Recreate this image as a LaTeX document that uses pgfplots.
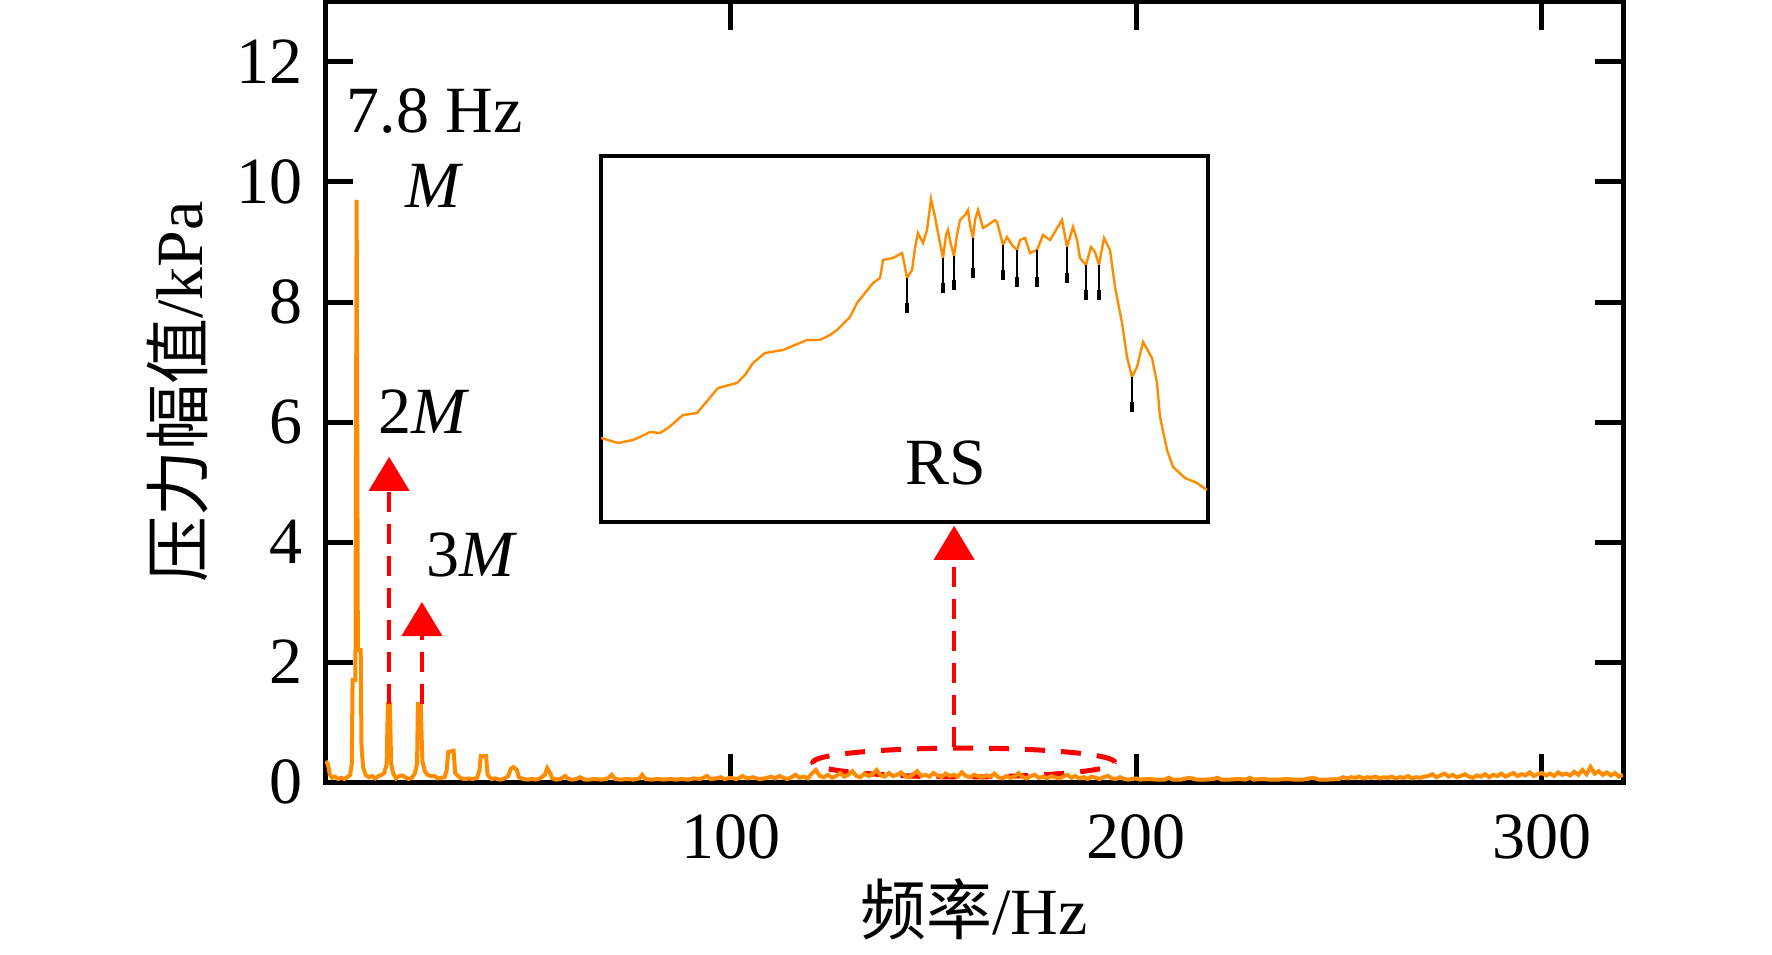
\documentclass[border=0pt]{standalone}
\usepackage{fontspec}
\setmainfont{Liberation Serif}
\newfontfamily\cjk{Noto Sans CJK SC}
\usepackage{pgfplots}
\pgfplotsset{compat=1.18}
\usetikzlibrary{arrows.meta,calc}
\definecolor{sorange}{RGB}{255,140,0}
\newcommand\fs{\fontsize{16.5}{19}\selectfont}
\begin{document}
\begin{tikzpicture}
\useasboundingbox (-81.25pt,-43pt) rectangle (361.75pt,195.5pt);
\begin{axis}[name=main, at={(0,0)}, anchor=south west,
  scale only axis, width=324.5pt, height=195pt,
  xmin=0, xmax=320, ymin=0, ymax=13,
  xtick={100,200,300}, ytick={0,2,4,6,8,10,12},
  tick align=inside, major tick length=7pt,
  tick style={line width=1.25pt, black},
  axis line style={line width=1.25pt},
  /pgf/number format/assume math mode=true,
  tick label style={font=\fs},
  xticklabel style={yshift=-4.5pt},
  yticklabel style={xshift=-2pt},
  label style={font=\fs},
  xlabel={{\cjk 频率}/Hz},
  ylabel={{\cjk 压力幅值}/kPa},
  xlabel style={at={(axis description cs:0.5,0)}, anchor=center, yshift=-31.75pt},
  ylabel style={at={(axis description cs:-0.1133,0.5)}, anchor=center},
]
\draw[red, line width=1.25pt, dash pattern=on 5pt off 4pt] (axis cs:157.5,0.325) ellipse [x radius=37.75pt, y radius=3.6pt];
\addplot[sorange, line width=1pt, no marks] coordinates {
(0.2,0.35)(0.7,0.3)(1.2,0.12)(1.8,0.07)(2.5,0.09)(3.2,0.05)(4.0,0.07)(4.8,0.05)(5.5,0.08)(6.2,0.12)(6.6,0.3)
(6.8,1.7)(7.5,1.7)(7.8,9.7)(8.1,2.2)(8.8,2.2)(9.0,0.6)(9.4,0.25)(10.0,0.12)(10.8,0.08)(11.6,0.1)(12.4,0.06)
(13.2,0.1)(14.0,0.12)(14.6,0.15)(15.2,0.3)(15.5,1.3)(16.0,1.3)(16.3,0.3)(16.8,0.15)(17.5,0.06)(18.3,0.1)
(19.0,0.11)(19.8,0.08)(20.6,0.05)(21.4,0.07)(22.2,0.15)(22.7,0.3)(22.9,1.3)(23.6,1.3)(24.0,0.35)(24.6,0.18)
(25.3,0.12)(26.0,0.1)(27.0,0.1)(27.8,0.06)(28.6,0.07)(29.5,0.08)(30.0,0.2)(30.4,0.5)(31.7,0.52)(32.1,0.15)
(32.8,0.1)(33.6,0.06)(34.5,0.05)(35.5,0.06)(36.5,0.05)(37.5,0.07)(38.1,0.2)(38.4,0.43)(39.7,0.43)(40.1,0.12)
(41,0.05)(42,0.06)(43,0.04)(44,0.05)(45.2,0.1)(45.8,0.22)(46.5,0.25)(47.3,0.2)(47.8,0.08)(48.8,0.05)
(50,0.04)(51,0.05)(52,0.04)(53,0.06)(54.2,0.12)(54.8,0.23)(55.5,0.15)(56,0.06)(57,0.04)(58,0.05)(59.2,0.1)
(60,0.05)(61,0.04)(62,0.05)(62.9,0.08)(64,0.04)
(65,0.04)(66.5,0.05)(68,0.04)(69.5,0.05)(70.7,0.12)(71.5,0.05)(73,0.04)(74.5,0.05)(76,0.04)(77.5,0.06)
(78.2,0.12)(79,0.05)(80.5,0.04)(82,0.05)(83.5,0.04)(85,0.05)(86.5,0.04)(88,0.05)(89.5,0.04)(91,0.06)
(92.5,0.05)(94.2,0.1)(95,0.05)(96.5,0.06)(97.5,0.08)(98.5,0.05)(100,0.07)(101.5,0.05)(103,0.1)(104,0.06)
(105.5,0.08)(107,0.05)(108.5,0.06)(110,0.09)
(111,0.06)(112,0.1)(113,0.07)(114,0.05)(115,0.08)(116,0.12)(117,0.07)(118,0.09)(119,0.06)(120,0.14)
(121,0.2)(122,0.1)(123,0.08)(124,0.12)(125,0.07)(126,0.1)(127,0.15)(128,0.09)(129,0.12)(130,0.18)
(131,0.1)(132,0.08)(133,0.14)(134,0.1)(135,0.13)(136,0.2)(137,0.11)(138,0.09)(139,0.15)(140,0.1)
(141,0.12)(142,0.16)(143,0.1)(144,0.08)(145,0.13)(146,0.18)(147,0.1)(148,0.12)(149,0.09)(150,0.15)
(151,0.11)(152,0.08)(153,0.14)(154,0.1)(155,0.12)(156,0.09)(157,0.16)(158,0.1)(159,0.08)(160,0.12)
(161,0.1)(162,0.07)(163,0.11)(164,0.09)(165,0.14)(166,0.08)(167,0.06)(168,0.1)(169,0.07)(170,0.09)
(171,0.15)(172,0.08)(173,0.06)(174,0.1)(175,0.12)(176,0.07)(177,0.09)(178,0.06)(179,0.1)(180,0.08)
(181,0.06)(182,0.09)(183,0.12)(184,0.07)(185,0.1)(186,0.06)(187,0.08)(188,0.05)(189,0.09)(190,0.07)
(191,0.05)(192,0.08)(193,0.1)(194,0.06)(195,0.05)(196,0.08)(197,0.05)(198,0.04)(199,0.05)(200,0.06)
(201,0.04)(203,0.05)(205,0.04)(207,0.04)(208,0.07)(209,0.04)(211,0.04)(213,0.07)(215,0.04)(217,0.04)
(219,0.05)(220,0.07)(221,0.04)(223,0.04)(225,0.05)(227,0.04)(228,0.07)(229,0.04)(231,0.05)(233,0.04)
(235,0.04)(237,0.05)(239,0.04)(241,0.04)(243.6,0.07)(245,0.04)(247,0.04)
(250,0.05)(251,0.08)(252,0.06)(253,0.08)(254,0.07)(255,0.09)(256,0.06)(257,0.08)(258,0.07)(259,0.09)
(260,0.06)(261,0.08)(262,0.07)(263,0.09)(264,0.06)(265,0.08)(266,0.07)(267,0.1)(268,0.06)(269,0.08)
(270,0.07)(271,0.09)(272,0.1)(273,0.13)(274,0.08)(275,0.11)(276,0.14)(277,0.09)(278,0.12)(279,0.08)
(280,0.1)(281,0.13)(282,0.09)(283,0.07)(284,0.11)(285,0.09)(286,0.13)(287,0.08)(288,0.12)(289,0.1)
(290,0.14)(291,0.09)(292,0.12)(293,0.15)(294,0.1)(295,0.13)(296,0.11)(297,0.16)(298,0.1)(299,0.13)
(300,0.15)(301,0.11)(302,0.14)(303,0.1)(304,0.16)(305,0.12)(306,0.14)(307,0.11)(308,0.17)(309,0.12)
(310,0.2)(311,0.13)(312,0.25)(313,0.14)(314,0.18)(315,0.12)(316,0.16)(317,0.11)(318,0.15)(319,0.09)(320,0.12)
};
% arrows
\addplot[red, line width=1pt, dash pattern=on 5pt off 3pt, -{Triangle[width=10pt,length=8.5pt]}] coordinates {(15.8,1.3) (15.8,5.42)};
\addplot[red, line width=1pt, dash pattern=on 5pt off 3pt, -{Triangle[width=10pt,length=8.5pt]}] coordinates {(23.9,1.3) (23.9,3.0)};
\addplot[red, line width=1pt, dash pattern=on 5pt off 3pt, -{Triangle[width=10pt,length=8.5pt]}] coordinates {(155.1,0.58) (155.1,4.27)};
\addplot[red, line width=1pt] coordinates {(155.1,4.33) (155.1,4.42)};
\node[font=\fs] at (axis cs:27.1,11.18) {7.8 Hz};
\node[font=\fs] at (axis cs:27.1,9.93) {\textit{M}};
\node[font=\fs] at (axis cs:24.4,6.17) {2\textit{M}};
\node[font=\fs] at (axis cs:36.2,3.78) {3\textit{M}};
\end{axis}
\begin{axis}[at={($(main.south west)+(69pt,65pt)$)}, anchor=south west,
  scale only axis, width=151.75pt, height=91.5pt,
  xmin=601, xmax=1208, ymin=-522, ymax=-156,
  ticks=none, axis line style={line width=1pt},
  axis background/.style={fill=white}]
\addplot[sorange, line width=0.6pt, no marks] coordinates {
(601,-438)(618,-443)(633,-440)(640,-437)(650,-432)(660,-433)(668,-428)(683,-415)(697,-413)(708,-400)
(718,-388)(737,-383)(745,-375)(753,-363)(765,-353)(783,-350)(795,-345)(807,-340)(820,-340)(830,-335)
(837,-330)(845,-322)(850,-317)(857,-303)(865,-293)(873,-283)(880,-278)(883,-260)(893,-258)(902,-253)
(904,-262)(907,-278)(912,-270)(915,-248)(918,-233)(923,-243)(927,-230)(931,-199)(935,-217)(938,-233)
(943,-258)(946,-235)(948,-230)(951,-245)(954,-256)(957,-235)(960,-220)(965,-215)(968,-210)(970,-225)
(973,-238)(975,-220)(978,-210)(983,-228)(988,-225)(995,-220)(997,-222)(1003,-245)(1007,-237)(1012,-245)
(1017,-250)(1020,-240)(1025,-238)(1030,-253)(1037,-250)(1043,-235)(1050,-240)(1056,-230)(1062,-220)(1067,-247)
(1073,-227)(1077,-240)(1080,-258)(1086,-265)(1091,-247)(1095,-252)(1099,-265)(1104,-238)(1110,-250)(1115,-287)
(1122,-323)(1127,-357)(1132,-377)(1137,-367)(1143,-342)(1152,-358)(1157,-383)(1160,-417)(1167,-450)(1173,-467)
(1185,-478)(1197,-483)(1207,-490)
};
\addplot[black, line width=0.5pt, no marks, unbounded coords=jump] coordinates {
(907,-278)(907,-313)(907,nan)(943,-258)(943,-293)(943,nan)(954,-256)(954,-290)(954,nan)
(973,-238)(973,-278)(973,nan)(1003,-245)(1003,-280)(1003,nan)(1017,-250)(1017,-287)(1017,nan)
(1037,-250)(1037,-287)(1037,nan)(1067,-247)(1067,-283)(1067,nan)(1086,-265)(1086,-300)(1086,nan)
(1099,-265)(1099,-300)(1099,nan)(1132,-377)(1132,-412)
};
\addplot[black, line width=1.2pt, no marks, unbounded coords=jump] coordinates {
(907,-303)(907,-313)(907,nan)(943,-283)(943,-293)(943,nan)(954,-280)(954,-290)(954,nan)
(973,-268)(973,-278)(973,nan)(1003,-270)(1003,-280)(1003,nan)(1017,-277)(1017,-287)(1017,nan)
(1037,-277)(1037,-287)(1037,nan)(1067,-273)(1067,-283)(1067,nan)(1086,-290)(1086,-300)(1086,nan)
(1099,-290)(1099,-300)(1099,nan)(1132,-402)(1132,-412)
};
\node[font=\fs] at (axis cs:946,-463) {RS};
\end{axis}
\end{tikzpicture}
\end{document}
